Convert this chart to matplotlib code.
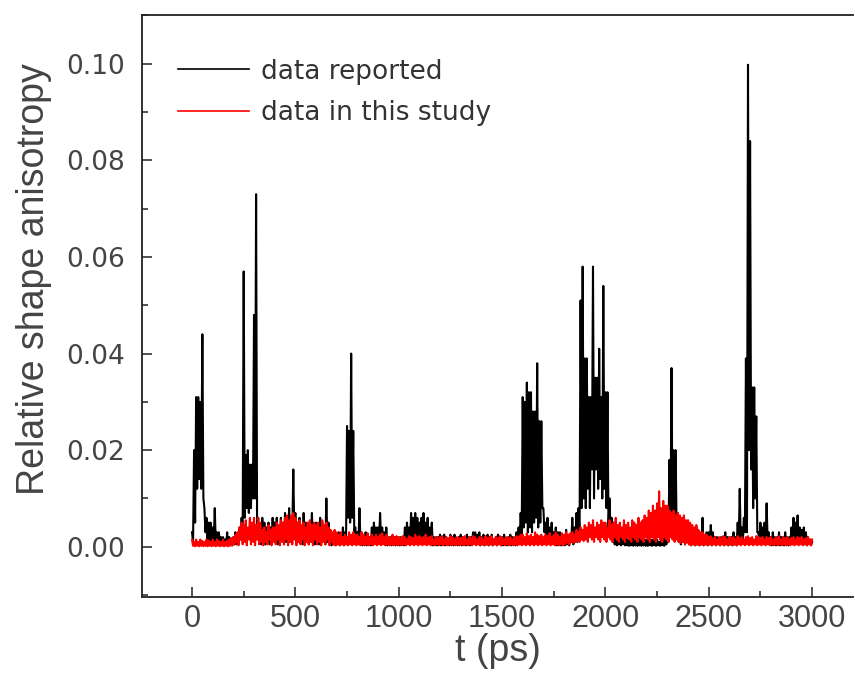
import numpy as np
import matplotlib
matplotlib.use("Agg")
import matplotlib.pyplot as plt
from matplotlib.ticker import MultipleLocator

# ---------------------------- DATA (units of 1e-3) ----------------------------
# sampled every 10 ps from 0 to 3000 ps; "top" values sit on the 10 ps marks,
# "floor" values sit half way between them (t + 5 ps)
reported_top = [
    3, 20, 31, 31, 30, 44, 8, 6, 5, 5,
    4, 8, 3, 3, 2, 2, 1.5, 3, 2, 1.5,
    2, 3, 2, 4, 6, 57, 19, 20, 17, 17,
    48, 73, 6, 3, 6, 5, 4, 5, 4, 6,
    5, 6, 4, 6, 5, 7, 5, 8, 6, 16,
    7, 5, 6, 4, 7, 5, 4, 5, 7, 4,
    5, 4, 6, 5, 4, 10, 5, 3, 2, 2,
    2, 3, 2, 4, 3, 25, 24, 40, 24, 4,
    3, 8, 3, 2, 3, 2, 2, 4, 5, 4,
    4, 7, 4, 3, 4, 2, 2, 1.5, 2, 2,
    2, 2, 2, 4, 5, 4, 7, 6, 7, 6,
    5, 6, 7, 5, 6, 4, 5, 2, 2, 2,
    2.5, 1.5, 2.5, 2, 1.5, 2.5, 2, 2.5, 1.5, 2,
    2.5, 2, 1.5, 2.5, 2, 2, 3, 3, 2.5, 3,
    2, 2.5, 1.5, 2.5, 2, 2.5, 1.5, 2, 2.5, 2,
    2, 2.5, 1.5, 2, 2.5, 2, 2, 3, 4, 7,
    31, 30, 34, 32, 32, 28, 28, 38, 26, 26,
    8, 5, 6, 4, 5, 3, 4, 3, 3, 2,
    2, 3.5, 2, 2, 6, 4, 7, 8, 51, 58,
    39, 39, 31, 31, 58, 35, 35, 41, 31, 54,
    32, 32, 10, 6, 5, 4, 3, 2, 3, 2,
    2, 1.5, 2, 3, 1.5, 2, 1.5, 2, 2, 1.5,
    1.5, 2, 1.5, 1.5, 2, 1.5, 1, 1.5, 2, 3,
    5, 18, 37, 20, 20, 7, 6, 5, 6, 5,
    5, 4, 4, 3, 4, 3, 2, 6, 2, 3,
    3, 4.5, 3, 2, 2, 1.5, 2, 2, 3, 2,
    2, 2, 3, 2, 5, 12, 4, 6, 39, 99.8,
    84, 33, 33, 27, 3, 5, 4, 5, 9, 3,
    2, 3, 2, 2, 3, 2, 2, 3, 2, 2,
    4, 6, 5, 6.5, 4, 3.5, 4, 3, 2, 1.5,
    1,
]
reported_floor = [
    1, 5, 12, 14, 12, 10, 3, 1, 0.5, 1,
    1, 0.5, 1, 0.5, 0.3, 1, 0.5, 0.3, 0.5, 0.3,
    0.5, 0.5, 1, 1.5, 2, 6, 8, 7, 8, 10,
    10, 1.5, 1, 0.5, 1, 0.5, 1, 0.5, 1, 1.5,
    1, 0.5, 1, 1.5, 0.5, 1, 2, 1, 2, 3,
    2, 1, 1.5, 0.5, 1, 1.5, 0.5, 1, 1.5, 0.5,
    1, 0.5, 1, 1.5, 0.5, 1, 0.5, 0.3, 0.5, 0.3,
    0.5, 0.3, 0.5, 0.3, 0.5, 6, 5, 6, 3, 1,
    0.5, 0.5, 0.3, 0.5, 0.3, 0.5, 0.3, 0.5, 1, 0.5,
    1, 0.5, 1, 0.5, 0.3, 0.5, 0.3, 0.5, 0.3, 0.5,
    0.3, 0.5, 0.3, 0.5, 1, 0.5, 1, 1.5, 1, 0.5,
    1, 0.5, 1, 0.5, 1, 0.5, 0.3, 0.5, 0.3, 0.5,
    0.3, 0.5, 0.3, 0.5, 0.3, 0.5, 0.3, 0.5, 0.3, 0.5,
    0.3, 0.5, 0.3, 0.5, 0.3, 1, 1.5, 1, 0.5, 0.3,
    0.5, 0.3, 0.5, 0.3, 0.5, 0.3, 0.5, 0.3, 0.5, 0.3,
    0.3, 0.5, 0.3, 0.5, 0.3, 0.5, 0.3, 0.5, 1, 2,
    4, 5, 3, 4, 3, 5, 6, 4, 5, 8,
    3, 1, 1, 0.5, 1, 0.5, 0.3, 0.5, 0.3, 0.5,
    0.3, 0.5, 0.3, 1, 0.5, 1, 1, 2, 8, 10,
    8, 12, 8, 16, 10, 16, 12, 14, 10, 12,
    8, 4, 3, 1, 0.5, 0.3, 0.5, 0.3, 0.5, 0.3,
    0.3, 0.2, 0.3, 0.2, 0.3, 0.2, 0.3, 0.2, 0.3, 0.2,
    0.2, 0.3, 0.2, 0.3, 0.2, 0.3, 0.2, 0.3, 0.2, 0.5,
    1, 3, 4, 3, 2, 1, 0.5, 1, 0.5, 1,
    0.5, 0.3, 0.5, 0.3, 0.5, 0.3, 0.5, 0.3, 0.5, 0.3,
    0.5, 0.3, 0.5, 0.3, 0.5, 0.3, 0.5, 0.3, 0.5, 0.3,
    0.5, 0.3, 0.5, 0.3, 1, 0.5, 1, 3, 3, 20,
    16, 8, 10, 3, 1, 0.5, 1, 0.5, 1, 0.5,
    0.3, 0.5, 0.3, 0.5, 0.3, 0.5, 0.3, 0.5, 0.3, 0.5,
    0.5, 1, 1, 0.5, 1, 0.5, 0.5, 0.3, 0.5, 0.3,
]
study_top = [
    1.5, 1, 1.5, 1, 1.5, 1.2, 1, 1.5, 1.3, 1,
    1.5, 1, 1.5, 1.2, 1, 1.5, 1, 1.3, 1.5, 1.8,
    2, 2.5, 3, 4, 5, 4.5, 5.5, 4, 6, 5,
    6, 4.5, 6, 5, 3.5, 4, 3, 4.5, 3.5, 4,
    4, 5, 4.5, 5.5, 5, 6, 6.5, 5.5, 6.5, 7,
    6, 5, 5.5, 4.5, 5, 4, 5, 5.5, 4.5, 5,
    4.5, 5, 4, 5.5, 4.5, 5, 4, 3.5, 3, 3.5,
    3, 2.5, 3, 2, 2.5, 2, 3, 2.5, 3, 2.5,
    2.5, 2, 3, 2.5, 2, 2.8, 2, 2.5, 2, 2.5,
    2, 2.5, 2.8, 2, 2.5, 2, 1.8, 2.5, 2, 2.2,
    2, 1.8, 2.2, 2, 1.5, 2.2, 2, 1.8, 2.5, 2,
    2.2, 1.8, 2, 2.5, 1.8, 2, 2.2, 1.5, 2, 1.8,
    2, 2.2, 1.5, 2, 1.8, 2.2, 2, 1.5, 2, 1.8,
    1.8, 2, 2.2, 1.5, 2, 1.8, 2.2, 2, 1.5, 2,
    2, 1.5, 2.2, 1.8, 2, 2.2, 1.5, 2, 1.8, 2.2,
    2, 1.5, 2, 1.8, 2, 1.5, 2, 2.2, 2, 2.5,
    2.5, 2, 2.8, 2.2, 2.5, 2, 3, 2.5, 2.2, 2.5,
    2, 2.5, 2.2, 2.8, 2, 2.5, 3, 2.5, 2, 2.8,
    2.5, 3, 2.5, 2.8, 3, 2.5, 3.5, 3, 4, 3.5,
    4.5, 4, 5, 4.5, 5.5, 4, 5, 4.5, 5.5, 5,
    5, 4, 5.5, 4.5, 5, 6, 4.5, 5, 4, 5.5,
    4.5, 5, 4, 5.5, 5, 4.5, 6, 5, 5.5, 6.5,
    6, 7.5, 7, 8.5, 7.5, 9, 11.5, 8, 9.5, 8.5,
    8.5, 7.5, 7, 7.5, 6.5, 7, 6.5, 6, 6.5, 5.5,
    5.5, 5, 4.5, 4, 4.5, 3.5, 3, 3, 2.5, 2.5,
    2, 2.2, 1.8, 2, 1.5, 2, 1.8, 2.2, 2, 1.5,
    2, 1.8, 2, 1.5, 2.2, 1.8, 2, 1.5, 2, 2.2,
    1.8, 2, 1.5, 2.2, 2, 1.8, 2, 1.5, 2, 1.8,
    2, 1.5, 1.8, 2, 2.2, 1.5, 2, 1.8, 2, 1.5,
    1.8, 2, 1.5, 2, 1.8, 2, 1.5, 1.8, 2, 1.5,
    1.5,
]
study_floor = [
    0.2, 0.1, 0.2, 0.1, 0.2, 0.1, 0.2, 0.1, 0.2, 0.1,
    0.2, 0.1, 0.2, 0.1, 0.2, 0.1, 0.2, 0.1, 0.2, 0.3,
    0.5, 1, 0.3, 1.5, 0.5, 1, 0.3, 1.5, 0.5, 1,
    0.3, 1.5, 0.5, 1, 0.3, 1, 0.5, 1.5, 0.3, 1,
    0.5, 1.5, 0.3, 1, 0.5, 1.5, 0.3, 1, 0.5, 1.5,
    0.3, 1, 0.5, 1.5, 0.3, 1, 0.5, 1, 0.3, 1.5,
    0.5, 1, 0.3, 1, 0.5, 1.5, 0.3, 1, 0.5, 0.3,
    0.5, 0.3, 0.5, 0.3, 0.5, 0.3, 0.5, 0.3, 0.5, 0.3,
    0.5, 0.3, 0.5, 0.3, 0.5, 0.3, 0.5, 0.3, 0.5, 0.3,
    0.5, 0.3, 0.5, 0.3, 0.5, 0.3, 0.5, 0.3, 0.5, 0.3,
    0.5, 0.3, 0.5, 0.3, 0.5, 0.3, 0.5, 0.3, 0.5, 0.3,
    0.5, 0.3, 0.5, 0.3, 0.5, 0.3, 0.5, 0.3, 0.5, 0.3,
    0.5, 0.3, 0.5, 0.3, 0.5, 0.3, 0.5, 0.3, 0.5, 0.3,
    0.5, 0.3, 0.5, 0.3, 0.5, 0.3, 0.5, 0.3, 0.5, 0.3,
    0.5, 0.3, 0.5, 0.3, 0.5, 0.3, 0.5, 0.3, 0.5, 0.3,
    0.5, 0.3, 0.5, 0.3, 0.5, 0.3, 0.5, 0.3, 0.5, 0.3,
    0.5, 0.3, 0.5, 0.3, 0.5, 0.3, 0.5, 0.3, 0.5, 0.3,
    0.5, 0.3, 0.5, 0.3, 0.5, 0.3, 0.5, 0.3, 0.5, 0.3,
    0.5, 0.8, 0.5, 1, 0.8, 1, 1.2, 1, 1.5, 1.2,
    1.5, 1, 2, 1.5, 1, 2, 1.5, 1, 2, 1.5,
    1, 2, 1.5, 1, 2, 1.5, 1, 2, 1.5, 1,
    2, 1.5, 1, 2, 1.5, 1, 2, 1.5, 1, 2,
    1.5, 1, 2, 1.5, 1, 2, 1.5, 1, 2, 1.5,
    1, 2, 1.5, 1, 1.5, 1, 0.8, 1, 0.5, 0.8,
    0.5, 0.3, 0.5, 0.3, 0.5, 0.3, 0.5, 0.3, 0.5, 0.3,
    0.5, 0.3, 0.5, 0.3, 0.5, 0.3, 0.5, 0.3, 0.5, 0.3,
    0.5, 0.3, 0.5, 0.3, 0.5, 0.3, 0.5, 0.3, 0.5, 0.3,
    0.5, 0.3, 0.5, 0.3, 0.5, 0.3, 0.5, 0.3, 0.5, 0.3,
    0.5, 0.3, 0.5, 0.3, 0.5, 0.3, 0.5, 0.3, 0.5, 0.3,
    0.5, 0.3, 0.5, 0.3, 0.5, 0.3, 0.5, 0.3, 0.5, 0.3,
]

x_ticks = [0, 500, 1000, 1500, 2000, 2500, 3000]
y_ticks = [0.00, 0.02, 0.04, 0.06, 0.08, 0.10]


def weave(top, floor):
    # put each floor sample between two neighbouring top samples
    t = np.arange(0, 10 * (len(top) - 1) + 1, 5)
    v = np.empty(len(top) + len(floor))
    v[0::2] = top
    v[1::2] = floor
    return t, v * 1e-3


t_rep, v_rep = weave(reported_top, reported_floor)
t_new, v_new = weave(study_top, study_floor)

# ------------------------------- FIGURE -------------------------------
W, H, DPI = 855, 681, 100
fig = plt.figure(figsize=(W / DPI, H / DPI), dpi=DPI)
ax = fig.add_axes([142 / W, 1 - 597 / H, (853 - 142) / W, (597 - 15) / H])

ax.plot(t_rep, v_rep, color="black", lw=1.5, label="data reported")
ax.plot(t_new, v_new, color="#ff0000", lw=1.5, label="data in this study")

ax.set_xlim(-242, 3198)
ax.set_ylim(-0.0104, 0.1101)
ax.set_xticks(x_ticks)
ax.set_yticks(y_ticks)
ax.set_yticklabels([f"{v:.2f}" for v in y_ticks])
ax.xaxis.set_minor_locator(MultipleLocator(250))
ax.yaxis.set_minor_locator(MultipleLocator(0.01))

ax.tick_params(which="both", direction="in", color="#222222", width=1.1,
               top=False, right=False)
ax.tick_params(which="major", length=7)
ax.tick_params(which="minor", length=4)
ax.tick_params(axis="y", pad=12, labelsize=19, labelcolor="#444444")
ax.tick_params(axis="x", pad=5, labelcolor="#444444")
for lab in ax.get_xticklabels():
    lab.set_family("Liberation Sans")
    lab.set_fontsize(22)

for side in ("left", "top", "bottom"):
    ax.spines[side].set_color("#222222")
    ax.spines[side].set_linewidth(1.3)
ax.spines["right"].set_visible(False)

ax.set_ylabel("Relative shape anisotropy", family="Liberation Sans",
              fontsize=27, color="#444444")
ax.yaxis.set_label_coords(-0.127, 0.546)
ax.set_xlabel("t (ps)", family="Liberation Sans", fontsize=27,
              color="#444444", labelpad=-1)

leg = ax.legend(loc="upper left", bbox_to_anchor=(0.0506, 0.925),
                frameon=False, fontsize=19, handlelength=2.7,
                handletextpad=0.45, labelspacing=0.6, borderpad=0,
                borderaxespad=0)
for line in leg.get_lines():
    line.set_linewidth(1.2)
for txt in leg.get_texts():
    txt.set_color("#333333")

fig.savefig("out.png", dpi=DPI)
